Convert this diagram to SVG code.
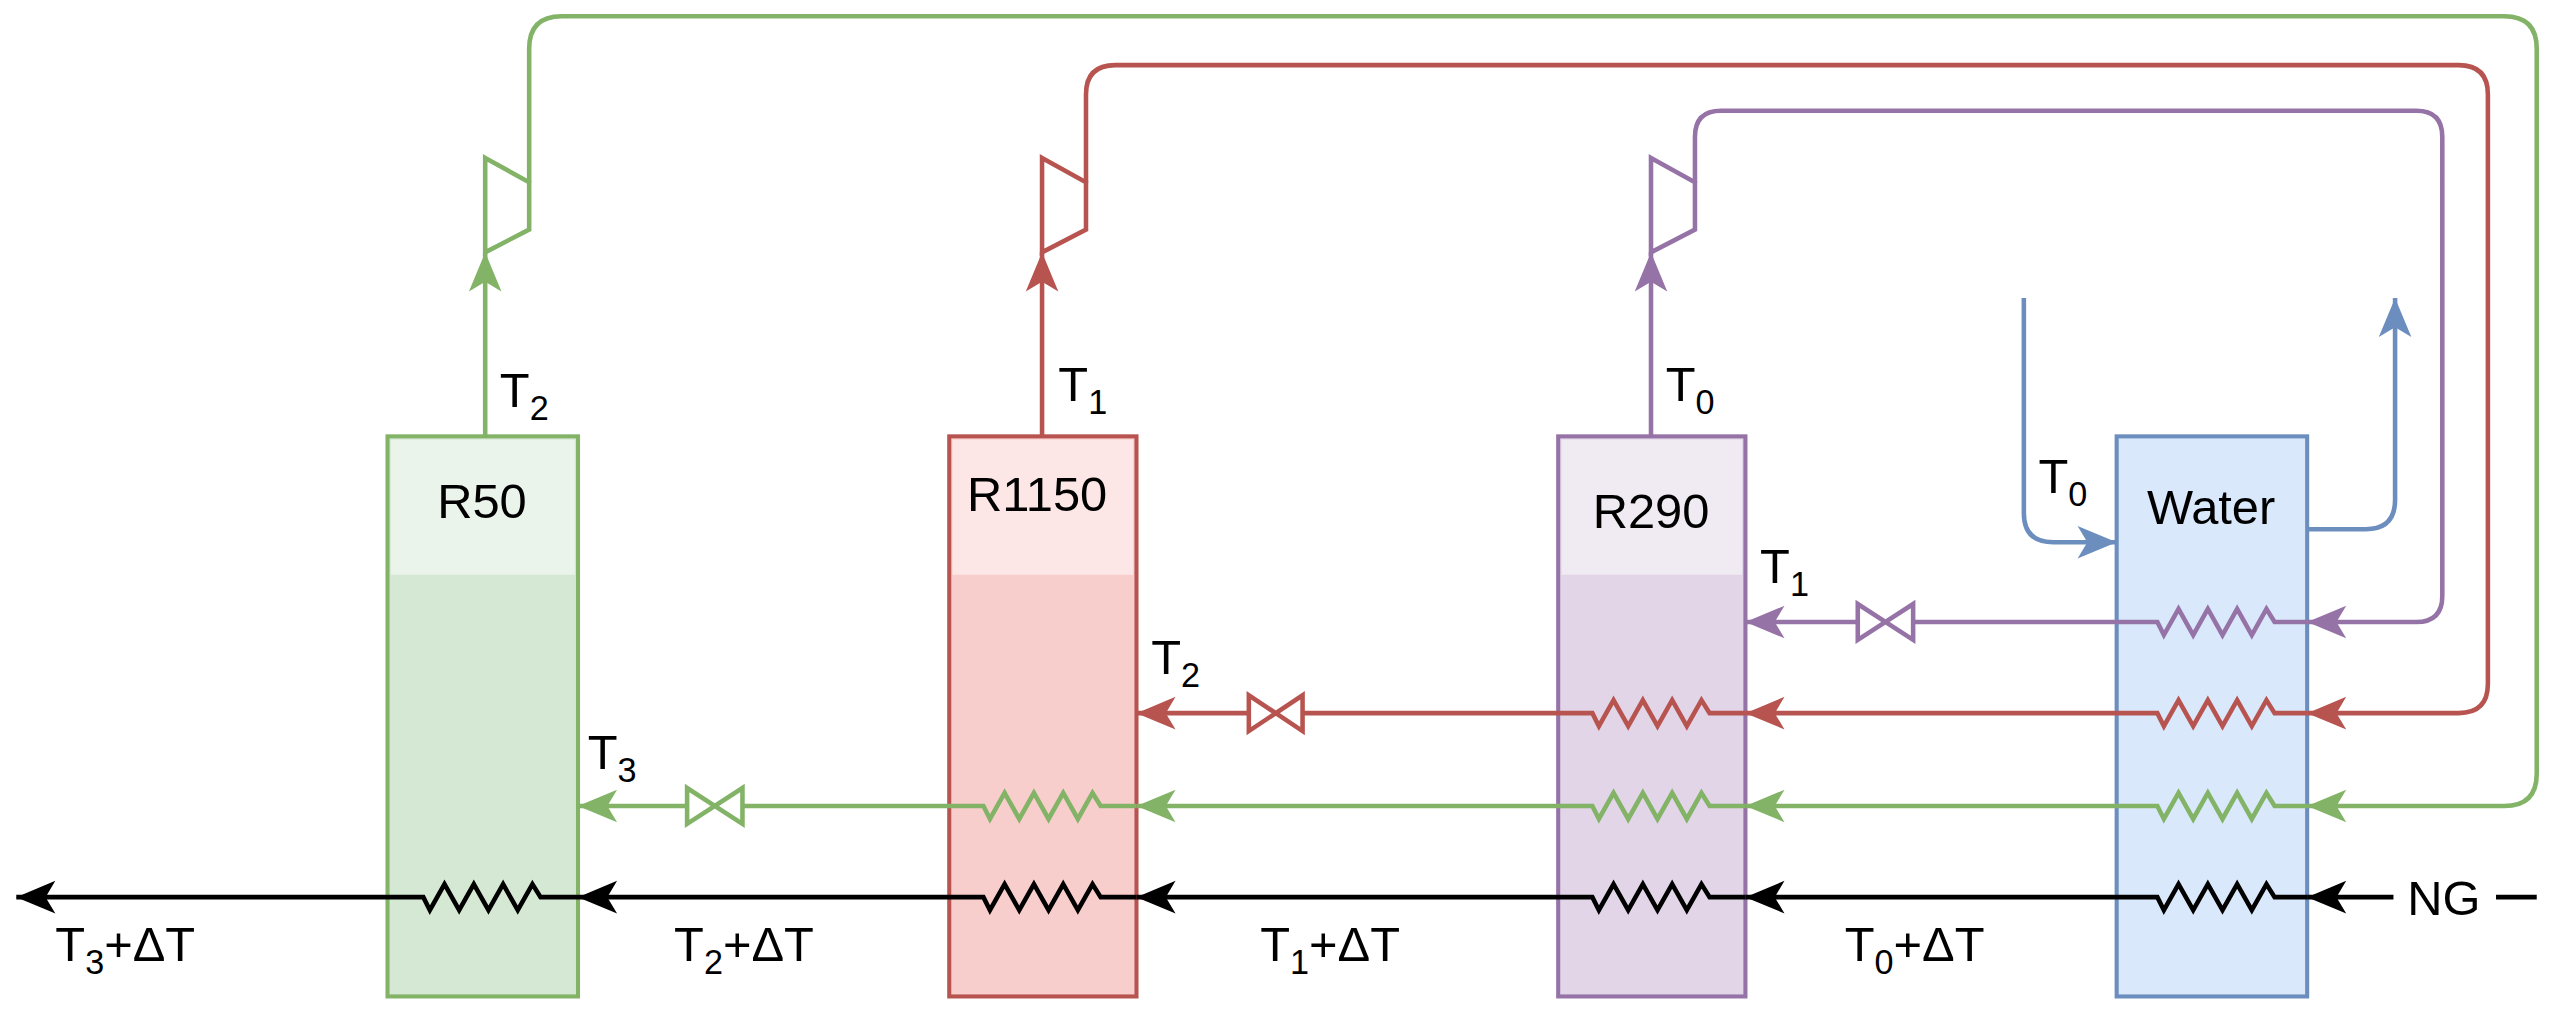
<svg xmlns="http://www.w3.org/2000/svg" width="2553" height="1018" viewBox="0 0 2553 1018">
<style>
text{font-family:"Liberation Sans",Arial,sans-serif;fill:#000;font-size:30px}
.s{font-size:21px}
.ln{fill:none;stroke-width:2.8;stroke-linejoin:miter}
.g{stroke:#82b366}.r{stroke:#b85450}.p{stroke:#9673a6}.b{stroke:#6c8ebf}.k{stroke:#000}
.hd{fill:#fff;fill-opacity:0.5;stroke:none}
</style>
<defs>
<marker id="ag" markerUnits="userSpaceOnUse" viewBox="-26 -12 28 24" refX="0" refY="0" markerWidth="28" markerHeight="24" orient="auto"><path d="M0,0 L-24,-10 L-18,0 L-24,10 Z" fill="#82b366"/></marker>
<marker id="ar" markerUnits="userSpaceOnUse" viewBox="-26 -12 28 24" refX="0" refY="0" markerWidth="28" markerHeight="24" orient="auto"><path d="M0,0 L-24,-10 L-18,0 L-24,10 Z" fill="#b85450"/></marker>
<marker id="ap" markerUnits="userSpaceOnUse" viewBox="-26 -12 28 24" refX="0" refY="0" markerWidth="28" markerHeight="24" orient="auto"><path d="M0,0 L-24,-10 L-18,0 L-24,10 Z" fill="#9673a6"/></marker>
<marker id="ab" markerUnits="userSpaceOnUse" viewBox="-26 -12 28 24" refX="0" refY="0" markerWidth="28" markerHeight="24" orient="auto"><path d="M0,0 L-24,-10 L-18,0 L-24,10 Z" fill="#6c8ebf"/></marker>
<marker id="ak" markerUnits="userSpaceOnUse" viewBox="-26 -12 28 24" refX="0" refY="0" markerWidth="28" markerHeight="24" orient="auto"><path d="M0,0 L-24,-10 L-18,0 L-24,10 Z" fill="#000"/></marker>
</defs>
<g transform="scale(1.6282)">
<g id="R50"><rect x="238" y="268" width="117" height="344" fill="#d5e8d4" stroke="#82b366" stroke-width="2.5"/><rect class="hd" x="240" y="270" width="113" height="83"/><text x="296" y="318" text-anchor="middle">R50</text></g>
<g id="R1150"><rect x="583" y="268" width="115" height="344" fill="#f8cecc" stroke="#b85450" stroke-width="2.5"/><rect class="hd" x="585" y="270" width="111" height="83"/><text x="637" y="314" text-anchor="middle">R1150</text></g>
<g id="R290"><rect x="957" y="268" width="115" height="344" fill="#e1d5e7" stroke="#9673a6" stroke-width="2.5"/><rect class="hd" x="959" y="270" width="111" height="83"/><text x="1014" y="324" text-anchor="middle">R290</text></g>
<g id="Water"><rect x="1300" y="268" width="117" height="344" fill="#dae8fc" stroke="#6c8ebf" stroke-width="2.5"/><text x="1358" y="322" text-anchor="middle">Water</text></g>
<g id="connectors">
<path class="ln g" d="M298,268 L298,155" marker-end="url(#ag)"/>
<path class="ln g" d="M298,97 L325,112 L325,141 L298,155 Z"/>
<path class="ln g" d="M325,112 L325,30 Q325,10 345,10 L1538,10 Q1558,10 1558,30 L1558,475 Q1558,495 1538,495 L1417,495" marker-end="url(#ag)"/>
<path class="ln g" d="M1417,495 L1397,495 l-5,-8 l-9,16 l-9,-16 l-9,16 l-9,-16 l-9,16 l-9,-16 l-9,16 l-4,-8 L1072,495" marker-end="url(#ag)"/>
<path class="ln g" d="M1072,495 L1050,495 l-5,-8 l-9,16 l-9,-16 l-9,16 l-9,-16 l-9,16 l-9,-16 l-9,16 l-4,-8 L698,495" marker-end="url(#ag)"/>
<path class="ln g" d="M698,495 L676,495 l-5,-8 l-9,16 l-9,-16 l-9,16 l-9,-16 l-9,16 l-9,-16 l-9,16 l-4,-8 L456,495 L456,484 L422,506 L422,484 L456,506 L456,495 M422,495 L355,495" marker-end="url(#ag)"/>
<path class="ln r" d="M640,268 L640,155" marker-end="url(#ar)"/>
<path class="ln r" d="M640,97 L667,112 L667,141 L640,155 Z"/>
<path class="ln r" d="M667,112 L667,58 Q667,40 685,40 L1510,40 Q1528,40 1528,58 L1528,420 Q1528,438 1510,438 L1417,438" marker-end="url(#ar)"/>
<path class="ln r" d="M1417,438 L1397,438 l-5,-8 l-9,16 l-9,-16 l-9,16 l-9,-16 l-9,16 l-9,-16 l-9,16 l-4,-8 L1072,438" marker-end="url(#ar)"/>
<path class="ln r" d="M1072,438 L1050,438 l-5,-8 l-9,16 l-9,-16 l-9,16 l-9,-16 l-9,16 l-9,-16 l-9,16 l-4,-8 L800,438 L800,427 L767,449 L767,427 L800,449 L800,438 M767,438 L698,438" marker-end="url(#ar)"/>
<path class="ln p" d="M1014,268 L1014,155" marker-end="url(#ap)"/>
<path class="ln p" d="M1014,97 L1041,112 L1041,141 L1014,155 Z"/>
<path class="ln p" d="M1041,112 L1041,84 Q1041,68 1057,68 L1484,68 Q1500,68 1500,84 L1500,366 Q1500,382 1484,382 L1417,382" marker-end="url(#ap)"/>
<path class="ln p" d="M1417,382 L1397,382 l-5,-8 l-9,16 l-9,-16 l-9,16 l-9,-16 l-9,16 l-9,-16 l-9,16 l-4,-8 L1175,382 L1175,371 L1141,393 L1141,371 L1175,393 L1175,382 M1141,382 L1072,382" marker-end="url(#ap)"/>
<path class="ln b" d="M1243,183 L1243,315 Q1243,333 1261,333 L1300,333" marker-end="url(#ab)"/>
<path class="ln b" d="M1417,325 L1453,325 Q1471,325 1471,307 L1471,183" marker-end="url(#ab)"/>
<path class="ln k" d="M1558,551 L1533,551 M1470,551 L1417,551" marker-end="url(#ak)"/>
<path class="ln k" d="M1417,551 L1397,551 l-5,-8 l-9,16 l-9,-16 l-9,16 l-9,-16 l-9,16 l-9,-16 l-9,16 l-4,-8 L1072,551" marker-end="url(#ak)"/>
<path class="ln k" d="M1072,551 L1050,551 l-5,-8 l-9,16 l-9,-16 l-9,16 l-9,-16 l-9,16 l-9,-16 l-9,16 l-4,-8 L698,551" marker-end="url(#ak)"/>
<path class="ln k" d="M698,551 L676,551 l-5,-8 l-9,16 l-9,-16 l-9,16 l-9,-16 l-9,16 l-9,-16 l-9,16 l-4,-8 L355,551" marker-end="url(#ak)"/>
<path class="ln k" d="M355,551 L332,551 l-5,-8 l-9,16 l-9,-16 l-9,16 l-9,-16 l-9,16 l-9,-16 l-9,16 l-4,-8 L10,551" marker-end="url(#ak)"/>
</g>
<g id="labels">
<text x="307" y="250">T<tspan class="s" dy="8">2</tspan></text>
<text x="650" y="246">T<tspan class="s" dy="8">1</tspan></text>
<text x="1023" y="246">T<tspan class="s" dy="8">0</tspan></text>
<text x="1252" y="303">T<tspan class="s" dy="8">0</tspan></text>
<text x="1081" y="358">T<tspan class="s" dy="8">1</tspan></text>
<text x="707" y="414">T<tspan class="s" dy="8">2</tspan></text>
<text x="361" y="472">T<tspan class="s" dy="8">3</tspan></text>
<text x="1501" y="562" text-anchor="middle">NG</text>
<text x="34" y="590">T<tspan class="s" dy="8">3</tspan><tspan dy="-8">+ΔT</tspan></text>
<text x="414" y="590">T<tspan class="s" dy="8">2</tspan><tspan dy="-8">+ΔT</tspan></text>
<text x="774" y="590">T<tspan class="s" dy="8">1</tspan><tspan dy="-8">+ΔT</tspan></text>
<text x="1133" y="590">T<tspan class="s" dy="8">0</tspan><tspan dy="-8">+ΔT</tspan></text>
</g>
</g>
</svg>
